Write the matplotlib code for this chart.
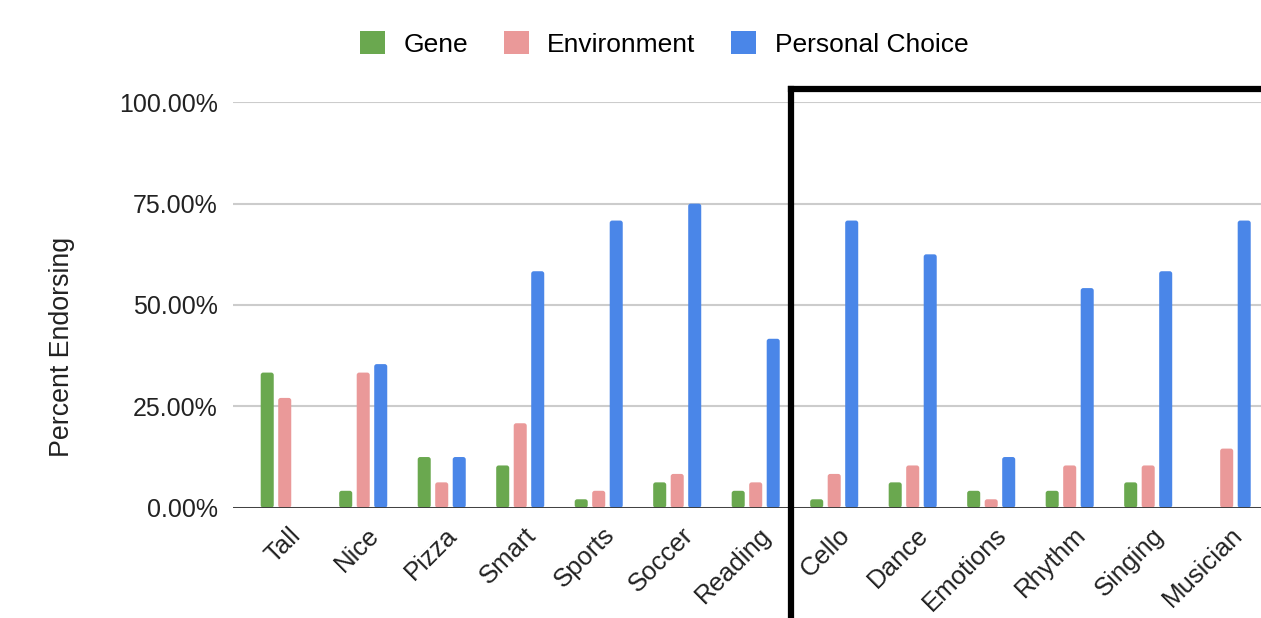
import matplotlib
matplotlib.use("Agg")
import matplotlib.pyplot as plt
import matplotlib.transforms as mtransforms
from matplotlib.patches import Patch, FancyBboxPatch
from matplotlib.ticker import PercentFormatter
import numpy as np

categories = ["Tall", "Nice", "Pizza", "Smart", "Sports", "Soccer", "Reading",
              "Cello", "Dance", "Emotions", "Rhythm", "Singing", "Musician"]
gene = [33.33, 4.17, 12.50, 10.42, 2.08, 6.25, 4.17, 2.08, 6.25, 4.17, 4.17, 6.25, 0.0]
environment = [27.08, 33.33, 6.25, 20.83, 4.17, 8.33, 6.25, 8.33, 10.42, 2.08, 10.42, 10.42, 14.58]
personal_choice = [0.0, 35.42, 12.50, 58.33, 70.83, 75.00, 41.67, 70.83, 62.50, 12.50, 54.17, 58.33, 70.83]
series_names = ["Gene", "Environment", "Personal Choice"]
series_colors = ["#6aa84f", "#ea9999", "#4a86e8"]
y_ticks = [0, 25, 50, 75, 100]

plt.rcParams['font.family'] = ['Liberation Sans', 'DejaVu Sans']

W, H = 1261, 618
fig = plt.figure(figsize=(W / 100, H / 100), dpi=100)
ax = fig.add_axes([233 / W, (H - 507.7) / H, 1 - 233 / W, (507.7 - 102.3) / H])

x = np.arange(len(categories))
step = 0.223
width = 0.166
ax.set_ylim(0, 100)
ax.set_xlim(-0.659, 12.437)

# pixel scales for rounded bar tops
px_x = (12.437 + 0.659) / (W - 233)
px_y = 100 / (507.7 - 102.3)
radius_px = 2.5

for i, (vals, col) in enumerate(zip([gene, environment, personal_choice], series_colors)):
    bars = ax.bar(x + (i - 1) * step, vals, width=width, color=col, zorder=3, linewidth=0)
    for b in bars:
        h = b.get_height()
        b.set_visible(False)
        if h <= 0:
            continue
        fb = FancyBboxPatch((b.get_x(), 0), b.get_width(), h,
                            boxstyle=f"round,pad=0,rounding_size={radius_px * px_x}",
                            mutation_aspect=px_y / px_x,
                            facecolor=col, edgecolor='none', zorder=3)
        ax.add_patch(fb)

ax.set_yticks(y_ticks)
ax.yaxis.set_major_formatter(PercentFormatter(xmax=100, decimals=2))
ax.grid(axis='y', color='#cccccc', linewidth=1.5, zorder=0)
ax.axhline(0, color='#333333', linewidth=2, zorder=4)
for s in ax.spines.values():
    s.set_visible(False)
ax.tick_params(axis='y', length=0, pad=11, labelsize=18, labelcolor='#222222')
ax.tick_params(axis='x', length=0, pad=17, labelsize=18.5, labelcolor='#222222')
ax.set_xticks(x)
ax.set_xticklabels(categories, rotation=45, ha='right', va='center', rotation_mode='anchor')
offset = mtransforms.ScaledTranslation(12 / 100, 0, fig.dpi_scale_trans)
for lbl in ax.get_xticklabels():
    lbl.set_transform(lbl.get_transform() + offset)

fig.text(62 / W, 1 - 347 / H, "Percent Endorsing", rotation=90, ha='center', va='center',
         fontsize=19.3, color='#222222')

handles = [Patch(facecolor=c, edgecolor='none') for c in series_colors]
fig.legend(handles, series_names, loc='center', bbox_to_anchor=(664 / W, 1 - 44 / H),
           ncol=3, frameon=False, fontsize=19, handlelength=0.95, handleheight=0.95,
           handletextpad=0.7, columnspacing=1.35)

# highlight box around the music-related categories
box_x = 6.45
box_top = 103.3
ax.plot([box_x, box_x], [-40, box_top], color='black', linewidth=4.5, clip_on=False,
        solid_capstyle='projecting', zorder=6)
ax.plot([box_x, 13.5], [box_top, box_top], color='black', linewidth=4.5, clip_on=False,
        solid_capstyle='projecting', zorder=6)

fig.savefig("out.png", dpi=100)
